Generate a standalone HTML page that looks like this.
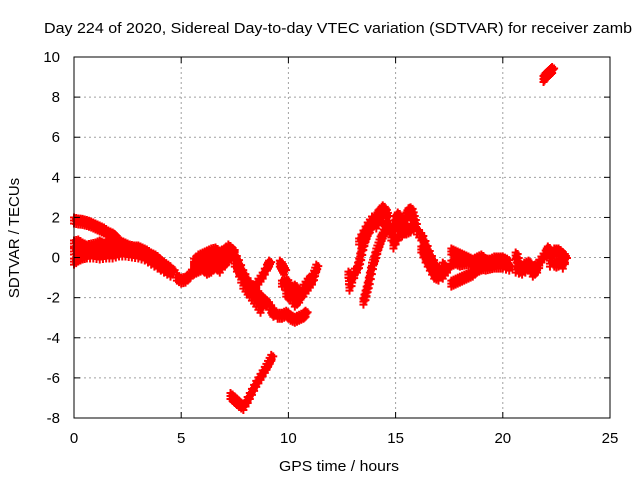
<!DOCTYPE html>
<html><head><meta charset="utf-8"><style>
body{margin:0;background:#fff}
svg text{font-family:"Liberation Sans",sans-serif;font-size:15px;fill:#000}
</style></head><body>
<svg id="chart" width="640" height="480" xmlns="http://www.w3.org/2000/svg">
<text x="44" y="33" textLength="588" lengthAdjust="spacingAndGlyphs">Day 224 of 2020, Sidereal Day-to-day VTEC variation (SDTVAR) for receiver zamb</text>
<text x="339" y="471" text-anchor="middle" textLength="120" lengthAdjust="spacingAndGlyphs">GPS time / hours</text>
<text transform="translate(19,238) rotate(-90)" text-anchor="middle">SDTVAR / TECUs</text>
<g id="grid"></g>
<g id="marks"></g>
<rect x="74" y="57" width="536" height="361" fill="none" stroke="#000" stroke-width="1"/>
<g id="ticks"></g>
</svg>
<script>
const xTicks=[0,5,10,15,20,25];
const yTicks=[-8,-6,-4,-2,0,2,4,6,8,10];
const trackA=[[0,1.85],[0.2,1.8],[0.4,1.78],[0.6,1.72],[0.8,1.65],[1.0,1.55],[1.2,1.45],[1.4,1.35],[1.6,1.2],[1.8,1.1],[1.9,1.0]];
const trackBUpper=[[0,0.7],[0.2,0.75],[0.4,0.6],[0.6,0.5],[0.8,0.55],[1,0.6],[1.2,0.7],[1.4,0.6],[1.6,0.75],[1.8,0.8],[2,0.85],[2.2,0.7],[2.4,0.6],[2.6,0.5],[2.8,0.45],[3,0.45],[3.2,0.35],[3.4,0.25],[3.6,0.1],[3.8,0],[4,-0.2],[4.2,-0.35],[4.4,-0.5]];
const trackBMid=[[0,0.3],[0.2,0.35],[0.4,0.3],[0.6,0.3],[0.8,0.35],[1,0.3],[1.2,0.4],[1.4,0.35],[1.6,0.4],[1.8,0.45],[2,0.5],[2.2,0.45],[2.4,0.4],[2.6,0.35],[2.8,0.3],[3,0.3],[3.2,0.2],[3.4,0.1],[3.6,-0.05],[3.8,-0.2],[4,-0.4],[4.2,-0.5],[4.4,-0.65],[4.6,-0.7]];
const trackBLower=[[0,-0.2],[0.2,-0.05],[0.4,0.05],[0.6,0.1],[0.9,0.1],[1.2,0.05],[1.5,0.1],[1.8,0.1],[2.1,0.2],[2.4,0.2],[2.7,0.15],[3,0.1],[3.3,0],[3.6,-0.2],[3.9,-0.4],[4.2,-0.6],[4.5,-0.8]];
const trackC=[[4.8,-1.0],[5.0,-1.15],[5.2,-1.1],[5.4,-0.9],[5.6,-0.6]];
const trackDUpper=[[5.6,-0.2],[5.8,0],[6.0,0.1],[6.2,0.2],[6.4,0.3],[6.6,0.35],[6.8,0.2],[7.0,0.3],[7.2,0.5],[7.4,0.3]];
const trackDMid=[[5.6,-0.45],[5.8,-0.3],[6.0,-0.2],[6.2,-0.25],[6.4,-0.15],[6.6,0],[6.8,-0.2],[7.0,0],[7.2,0.2]];
const trackDLower=[[5.6,-0.7],[5.8,-0.6],[6.0,-0.5],[6.2,-0.7],[6.4,-0.6],[6.6,-0.4],[6.8,-0.6],[7.0,-0.3],[7.2,-0.1]];
const trackE=[[7.4,0.2],[7.6,-0.2],[7.8,-0.7],[8.0,-1.1],[8.2,-1.4],[8.4,-1.6],[8.6,-1.9],[8.8,-2.1],[9.0,-2.3],[9.2,-2.6],[9.3,-2.8]];
const trackE2=[[7.5,-0.3],[7.7,-0.8],[7.9,-1.4],[8.1,-1.7],[8.3,-2.0],[8.5,-2.3],[8.7,-2.6]];
const trackF=[[8.2,-1.8],[8.4,-1.5],[8.6,-1.2],[8.8,-0.9],[9.0,-0.5],[9.1,-0.3]];
const trackG=[[9.6,-0.3],[9.7,-0.5],[9.8,-0.7]];
const trackH=[[9.7,-1.3],[9.9,-1.2],[10.1,-1.6],[10.3,-1.5],[10.5,-1.9],[10.7,-1.8],[10.9,-1.5],[11.1,-1.2],[11.2,-0.8],[11.3,-0.5]];
const trackH2=[[9.9,-1.8],[10.1,-2.0],[10.3,-2.3],[10.5,-2.1],[10.7,-1.5],[10.9,-1.2],[11.1,-1.0]];
const trackI=[[9.5,-2.9],[9.7,-2.9],[9.9,-2.8],[10.1,-3.0],[10.3,-3.1],[10.5,-3.0],[10.7,-2.9],[10.8,-2.8]];
const trackJ=[[7.3,-6.9],[7.5,-7.1],[7.7,-7.3],[7.9,-7.45],[8.1,-7.1],[8.3,-6.7],[8.5,-6.3],[8.7,-5.95],[8.9,-5.6],[9.05,-5.3],[9.2,-5.0]];
const trackK=[[12.8,-0.85],[12.85,-1.5],[13.1,-0.7]];
const trackL=[[13.2,-0.6],[13.3,-0.2],[13.4,0.3],[13.5,0.7],[13.6,1.0],[13.7,1.3],[13.8,1.4],[13.9,1.7],[14.0,1.8],[14.1,2.0],[14.2,2.2],[14.3,2.3],[14.4,2.45],[14.5,2.3],[14.6,2.0]];
const trackL2=[[13.3,0.8],[13.5,1.2],[13.7,1.6],[13.9,1.9],[14.1,1.6],[14.3,1.9]];
const trackM=[[13.5,-2.2],[13.6,-1.8],[13.7,-1.4],[13.8,-0.9],[13.9,-0.4],[14.0,-0.1],[14.1,0.3],[14.2,0.6],[14.3,0.9],[14.4,1.1],[14.5,1.4],[14.6,1.6]];
const trackN=[[14.8,1.0],[14.9,1.5],[15.0,1.9],[15.1,2.1],[15.2,1.6],[15.3,1.2],[15.4,1.6],[15.5,2.1],[15.6,2.3],[15.7,2.35],[15.8,2.0],[15.9,1.6]];
const trackN2=[[14.9,0.6],[15.1,1.0],[15.3,1.3],[15.5,1.3],[15.7,1.4]];
const trackO=[[16.0,1.3],[16.2,1.0],[16.4,0.5],[16.6,0.0],[16.8,-0.4],[17.0,-0.8],[17.2,-0.9],[17.4,-0.6]];
const trackO2=[[16.2,0.4],[16.4,-0.1],[16.6,-0.5],[16.8,-0.9],[17.0,-1.0],[17.2,-0.4]];
const trackP=[[17.6,0.3],[17.8,0.2],[18.0,0.1],[18.2,0.0],[18.4,-0.1],[18.6,-0.2],[18.8,-0.1],[19.0,0.0],[19.2,-0.2],[19.4,-0.2],[19.6,-0.1],[19.8,-0.1],[20.0,-0.1],[20.2,-0.2]];
const trackP2=[[17.6,-0.3],[17.8,-0.2],[18.0,-0.3],[18.2,-0.25],[18.4,-0.2],[18.6,-0.3],[18.8,-0.4],[19.0,-0.45],[19.2,-0.5],[19.4,-0.45],[19.6,-0.4],[19.8,-0.4],[20.0,-0.4],[20.3,-0.5]];
const trackQ=[[17.6,-1.3],[17.8,-1.2],[18.0,-1.1],[18.2,-1.0],[18.4,-0.9],[18.6,-0.8],[18.8,-0.6],[19.0,-0.5]];
const trackR=[[20.6,0.1],[20.7,-0.3],[20.8,-0.6],[21.0,-0.4],[21.2,-0.3],[21.4,-0.6],[21.6,-0.4],[21.8,-0.1],[22.0,0.2],[22.1,0.4]];
const trackR2=[[20.6,-0.6],[20.9,-0.7],[21.2,-0.5],[21.4,-0.8],[21.6,-0.6]];
const trackS=[[22.2,0.1],[22.4,0.3],[22.6,0.3],[22.8,0.1],[22.9,-0.1],[22.4,-0.3],[22.6,-0.3],[22.2,-0.3],[22.8,-0.4]];
const trackT=[[21.9,8.9],[22.0,9.05],[22.1,9.15],[22.2,9.25],[22.3,9.35]];
const tracks=[trackA,trackBUpper,trackBMid,trackBLower,trackC,trackDUpper,trackDMid,trackDLower,trackE,trackE2,trackF,trackG,trackH,trackH2,trackI,trackJ,trackK,trackL,trackL2,trackM,trackN,trackN2,trackO,trackO2,trackP,trackP2,trackQ,trackR,trackR2,trackS,trackT];

const NS="http://www.w3.org/2000/svg";
const X0=74,X1=610,Y0=418,Y1=57,XMIN=0,XMAX=25,YMIN=-8,YMAX=10;
const xs=v=>X0+(v-XMIN)/(XMAX-XMIN)*(X1-X0);
const ys=v=>Y0-(v-YMIN)/(YMAX-YMIN)*(Y0-Y1);
function mk(tag,attrs,parent){const e=document.createElementNS(NS,tag);for(const k in attrs)e.setAttribute(k,attrs[k]);parent.appendChild(e);return e;}
const grid=document.getElementById('grid'),ticks=document.getElementById('ticks'),marks=document.getElementById('marks');
xTicks.forEach(t=>{
  const x=xs(t);
  if(t>XMIN&&t<XMAX){const g=mk('line',{x1:x,x2:x,y1:Y1,y2:Y0,stroke:'#a0a0a0','stroke-dasharray':'2,3'},grid);
  
  }
  mk('line',{x1:x,x2:x,y1:Y0,y2:Y0-6,stroke:'#000'},ticks);
  mk('line',{x1:x,x2:x,y1:Y1,y2:Y1+6,stroke:'#000'},ticks);
  const l=mk('text',{x:x,y:Y0+25,'text-anchor':'middle'},ticks);l.textContent=t;
  
  
});
yTicks.forEach(t=>{
  const y=ys(t);
  if(t>YMIN&&t<YMAX){const g=mk('line',{x1:X0,x2:X1,y1:y,y2:y,stroke:'#a0a0a0','stroke-dasharray':'2,3'},grid);
  
  }
  mk('line',{x1:X0,x2:X0+6,y1:y,y2:y,stroke:'#000'},ticks);
  mk('line',{x1:X1,x2:X1-6,y1:y,y2:y,stroke:'#000'},ticks);
  const l=mk('text',{x:X0-14,y:y+5,'text-anchor':'end'},ticks);l.textContent=t;
  
  
});
let d='';
const offs=[[0,0],[0,-3],[0,3],[2,-1.5]];
tracks.forEach(tr=>{
  for(let i=0;i<tr.length;i++){
    const p=tr[i];
    const pts=[p];
    if(i+1<tr.length){const q=tr[i+1];pts.push([(p[0]+q[0])/2,(p[1]+q[1])/2]);}
    pts.forEach(pp=>{const bx=xs(pp[0]),by=ys(pp[1]);
      offs.forEach(o=>{const x=bx+o[0],y=by+o[1];
        d+=`M${x-4},${y}H${x+4}M${x},${y-4}V${y+4}`;});});
  }
});
const path=mk('path',{d:d,stroke:'#ff0000','stroke-width':2,fill:'none'},marks);


</script>
</body></html>
